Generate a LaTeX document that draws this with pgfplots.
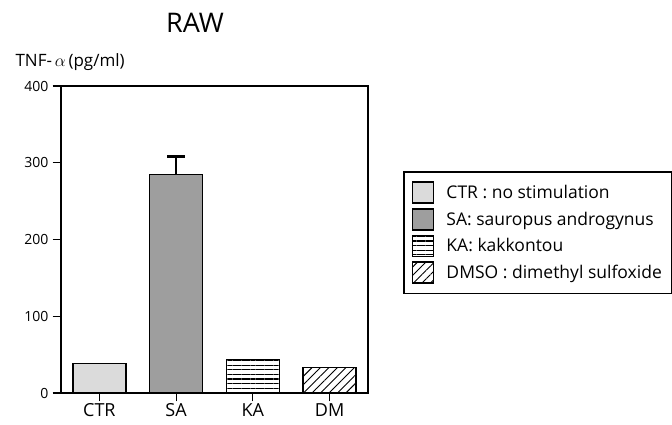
\documentclass[border=0pt]{standalone}
\usepackage{pgfplots}
\pgfplotsset{compat=1.18}
\usepackage{fontspec}
\setmainfont{Open Sans}
\usetikzlibrary{patterns.meta}

\begin{document}
\begin{tikzpicture}[x=1pt,y=1pt]
\useasboundingbox (0,0) rectangle (672,425);
\node[font=\fontsize{27}{30}\selectfont] at (195,402) {RAW};
\node[anchor=west, font=\fontsize{17}{19}\selectfont] at (12,363) {TNF-\,$\alpha$\,(pg/ml)};
\begin{axis}[
  at={(61pt,32pt)}, anchor=south west, scale only axis,
  width=307pt, height=307pt,
  xmin=-0.5, xmax=3.5, ymin=0, ymax=400,
  ytick={0,100,200,300,400},
  xtick={0,1,2,3}, xticklabels={CTR,SA,KA,DM},
  tick align=outside, major tick length=8.5pt,
  xtick pos=left, ytick pos=left,
  axis line style={line width=1.3pt},
  tick style={line width=1.1pt, black},
  /pgf/number format/assume math mode=true,
  yticklabel style={font=\fontsize{14}{16}\selectfont, xshift=-0.5pt},
  xticklabel style={font=\fontsize{18}{20}\selectfont, yshift=-1pt, inner sep=1pt},
  mylegend/.style={legend image code/.code={\draw[##1, line width=1.7pt] (0pt,-10.5pt) rectangle (21pt,10.5pt);}},
  legend style={at={(axis description cs:1.114,0.723)}, anchor=north west,
    draw=black, line width=1.6pt, font=\fontsize{17.5}{20}\selectfont,
    inner xsep=8pt, inner ysep=9.5pt, row sep=4pt, cells={anchor=west},
    /tikz/every odd column/.append style={column sep=10pt}},
]
\addplot[ybar, bar width=53pt, bar shift=0pt, draw=black, line width=1.3pt, fill=black!14, mylegend]
  coordinates {(0,38)};
\addlegendentry{CTR : no stimulation}
\addplot[ybar, bar width=53pt, bar shift=0pt, draw=black, line width=1.3pt, fill=black!38, mylegend,
  error bars/.cd, y dir=plus, y explicit,
  error bar style={line width=2.6pt},
  error mark options={rotate=90, mark size=9pt, line width=2.6pt}]
  coordinates {(1,285) +- (0,23)};
\addlegendentry{SA: sauropus androgynus}
\addplot[ybar, bar width=53pt, bar shift=0pt, draw=black, line width=1.3pt, fill=white,
  pattern={Lines[angle=0,distance=4.6pt,line width=1.2pt]}, mylegend]
  coordinates {(2,44)};
\addlegendentry{KA: kakkontou}
\addplot[ybar, bar width=53pt, bar shift=0pt, draw=black, line width=1.3pt,
  pattern={Lines[angle=45,distance=6pt,line width=1pt]}, mylegend]
  coordinates {(3,33.5)};
\addlegendentry{DMSO : dimethyl sulfoxide}
\end{axis}
\end{tikzpicture}
\end{document}
